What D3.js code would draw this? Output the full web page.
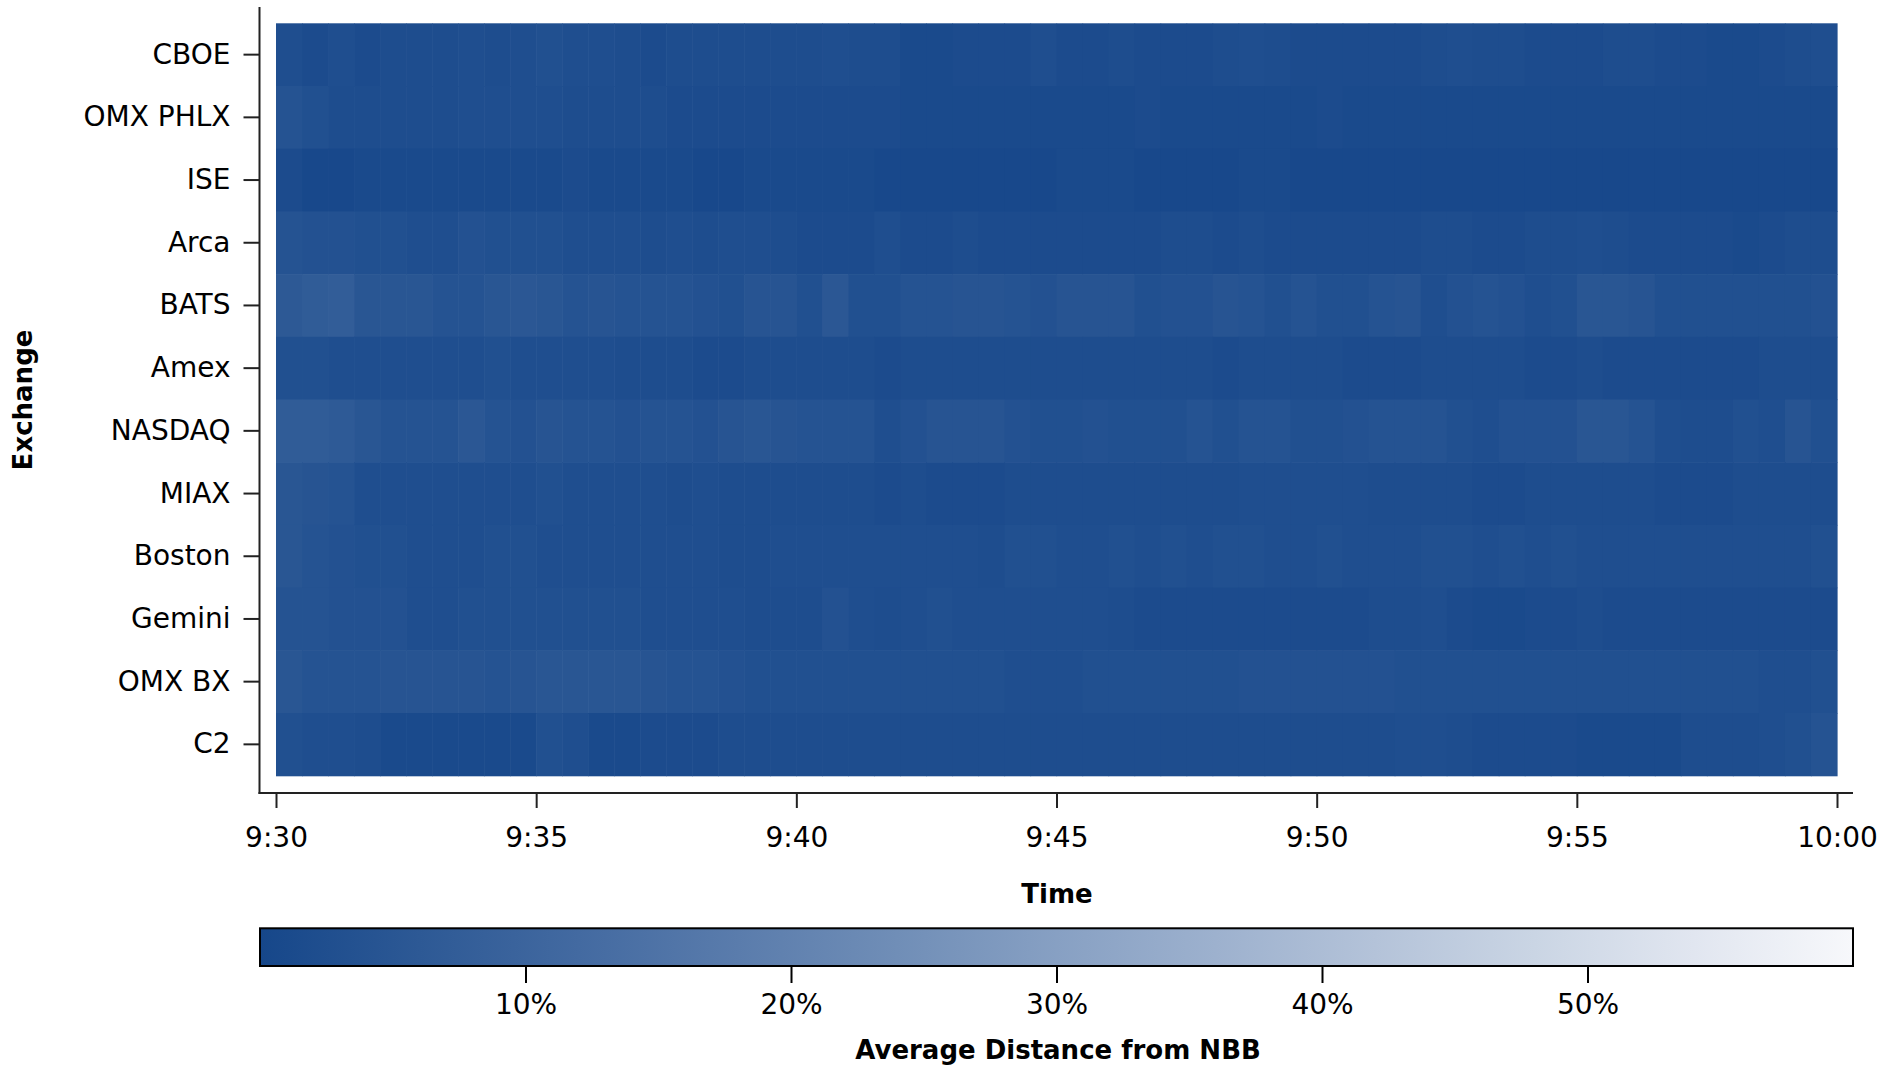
<!DOCTYPE html>
<html>
<head>
<meta charset="utf-8">
<script src="https://cdn.jsdelivr.net/npm/d3@7"></script>
<style>
  body { margin: 0; background: #fff; }
  svg { display: block; }
  text { font-family: "DejaVu Sans", sans-serif; fill: #000; }
</style>
</head>
<body>
<svg id="chart" width="1898" height="1067"></svg>
<script>
// ---- Data: average distance from NBB (%), 30-second bins from 9:30 to 10:00 ----
const exchangeNames = ["CBOE","OMX PHLX","ISE","Arca","BATS","Amex","NASDAQ","MIAX","Boston","Gemini","OMX BX","C2"];
const binSeconds = 30;
const xTickLabels = ["9:30","9:35","9:40","9:45","9:50","9:55","10:00"];
const colorTickValues = [0.10, 0.20, 0.30, 0.40, 0.50];

const CBOE = [2.5,1.5,2.5,1.5,2,2,2,2.5,2,2.5,3,2.5,2.5,2,1.5,2,2,2,2,2,2,2.5,2,2,1,1,1.5,1.5,1.5,2.5,
              1.5,1.5,2,1.5,1.5,1.5,2,2.5,2,1.5,1.5,1.5,1.5,1.5,2,2.5,2,2,1.5,1.5,1.5,2,2,1.5,1.5,1,1,1.5,2,2.5];
const OMX_PHLX = [4,3,2,2,2,2,2,2.5,2.5,2.5,2.5,2,2,2,2,1.5,1.5,1.5,1.5,1.5,1.5,1.5,1.5,1.5,1,1,1,1,1,1,
                  1,1,1,1.5,1,1,1,1,1,1,1.5,1,1,1,1,1,1,1,1,1,1,1,1,1,1,1,1,1,1,1];
const ISE = [1.5,0.5,0.5,1,1,1,1,1,1,1,1,1.5,1,1,1,1,0.5,0.5,1,1,1,1,1,0.5,0.5,0.5,0.5,0.5,0.5,0.5,
             1,1,1,0.5,0.5,0.5,0.5,1,1,0.5,0.5,0.5,0.5,0.5,0.5,0.5,0.5,0.5,0.5,0.5,0.5,0.5,0.5,0.5,0.5,0.5,0.5,0.5,0.5,0.5];
const Arca = [4,3.5,3.5,3,3,2.5,2.5,3.5,3,3,3,2.5,2.5,2.5,2,2.5,2,2.5,2.5,2,1.5,1.5,1.5,2.5,1.5,1.5,2,1.5,1.5,1.5,
              1.5,1.5,1.5,1.5,2,2,1.5,2,1.5,1.5,1.5,1.5,1.5,1.5,2,2,1.5,1.5,2,2,2.5,2,1.5,1.5,1.5,1.5,1,1.5,2,2];
const BATS = [6,7,7.5,5,5,5,4,4,5,5.5,5,4,4.5,4,4,4,3.5,3,4.5,4.5,3,5.5,3,3,4,4,4.5,4.5,4,3.5,
              4.5,4.5,4.5,3,3.5,3.5,4.5,4,3,4,3,3,4,4.5,2.5,3.5,4,3.5,2.5,3,5,5,4.5,3,3,3,3,3,3,3.5];
const Amex = [3,3,2.5,2.5,2.5,2.5,2.5,2.5,3,2.5,2.5,2.5,2.5,2,2,2,1.5,1.5,2,2,2,2,2,1.5,2,2,2,2,2,2,
              2,2,2,2,2,2,1.5,2,2,2,2,1.5,1.5,1.5,2,2,2,2,1.5,1.5,2,1.5,1.5,1.5,1.5,1.5,1.5,2,2,2];
const NASDAQ = [7,7,6.5,5,4,4,4,5.5,4,3.5,4.5,4,4,3.5,4,4,3.5,4.5,5,4.5,4,4,4,2.5,3.5,4.5,4.5,4.5,3.5,3,
                3,3.5,3,3,3,4,3,4,4,3,3,3.5,4,4,4,3,2.5,3.5,3.5,3.5,5,5,4,2.5,2,2,3,2.5,4.5,3];
const MIAX = [5,4.5,4,2.5,2.5,2.5,2.5,2.5,2.5,2.5,3,2.5,2.5,2.5,2.5,2,2.5,2,2,2,2,2,2,1.5,2,1.5,1.5,1.5,2,2,
              2,2,2,2,2,2,2,2.5,2.5,2.5,2.5,2.5,2,2,2,2,1.5,1.5,2,2,2,2,2,1.5,1.5,1.5,2,2,2,2];
const Boston = [5,4,3.5,3,3,2.5,2.5,2.5,3,3,2.5,2.5,2.5,2.5,2.5,2.5,2.5,2,2,2.5,2.5,2.5,2.5,2.5,2.5,2.5,2.5,2,3,3,
                2.5,2.5,3,2.5,3,2.5,3,3,2.5,2.5,3,2.5,2.5,2.5,3,3,2.5,3,2.5,3,2.5,2.5,2.5,2.5,2.5,2.5,2.5,2.5,2.5,3];
const Gemini = [4,4,3.5,3.5,3.5,2.5,2.5,3,3,3,3,3,3,3,2.5,2.5,2.5,2.5,2,2,2,3.5,2.5,2,2.5,3,2.5,2.5,2.5,2.5,
                2.5,2.5,2,1.5,1.5,1.5,1.5,1.5,1.5,1.5,1.5,1.5,2,2,2.5,1.5,1,1,1.5,1.5,2,1.5,1.5,1.5,1.5,1.5,1.5,1.5,1.5,1.5];
const OMX_BX = [5,4,4,4,4.5,4.5,4.5,4.5,4,4.5,5,5,5,5,4.5,4,4,3.5,3,3,3,3,3,3,3,3,3,3,2.5,2.5,
                2.5,3,3,3,3,3,3,3.5,3.5,3.5,3.5,3.5,3.5,3,3,3,3,3,3,3,3,3,3,3,3,3,3,2.5,2.5,3];
const C2 = [3,2.5,2.5,2,1,1,1,1,1,1,3,2.5,1,1,1.5,1.5,1.5,2,2,2,2,2,2,2,2,2,2,2,2,2,
            2,2,2,2,2,2,2,2,2,2,2,2,2,2.5,2.5,2,1.5,1.5,1.5,1.5,1,1,1,1,2,2,2,2.5,3,4];

const seriesByExchange = [CBOE, OMX_PHLX, ISE, Arca, BATS, Amex, NASDAQ, MIAX, Boston, Gemini, OMX_BX, C2];

// ---- Build table ----
const parseHM = d3.timeParse("%H:%M");
const t0 = parseHM(xTickLabels[0]);
const t1 = parseHM(xTickLabels[xTickLabels.length - 1]);
const cells = [];
exchangeNames.forEach((name, i) => {
  seriesByExchange[i].forEach((v, j) => {
    const start = d3.timeSecond.offset(t0, j * binSeconds);
    cells.push({ name, start, end: d3.timeSecond.offset(start, binSeconds), value: v / 100 });
  });
});

// ---- Layout ----
const svg = d3.select("#chart");
const plot = { left: 276, right: 1837, top: 23.3, bottom: 775.7 };
const axisX = 259.5, axisY = 793;

const x = d3.scaleTime().domain([t0, t1]).range([plot.left, plot.right]);
const y = d3.scaleBand().domain(exchangeNames).range([plot.top, plot.bottom]).padding(0);
const color = d3.scaleLinear().domain([0, 0.6]).range(["#16478a", "#f7f8fb"]).interpolate(d3.interpolateRgb);

// Heatmap cells
svg.append("g").selectAll("rect").data(cells).join("rect")
  .attr("x", d => x(d.start))
  .attr("y", d => y(d.name))
  .attr("width", d => x(d.end) - x(d.start) + 0.6)
  .attr("height", y.bandwidth() + 0.6)
  .attr("fill", d => color(d.value));

// Y axis
const yAxis = svg.append("g").attr("transform", `translate(${axisX},0)`)
  .call(d3.axisLeft(y).tickSize(16).tickPadding(13));
yAxis.select(".domain").remove();
yAxis.selectAll(".tick line").attr("stroke", "#222").attr("stroke-width", 2);
yAxis.selectAll(".tick text").style("font-size", "28px").attr("fill", "#000");
svg.append("line").attr("x1", axisX).attr("x2", axisX).attr("y1", 7).attr("y2", axisY + 1)
  .attr("stroke", "#222").attr("stroke-width", 2);

// X axis
const xTicks = xTickLabels.map(parseHM);
const xAxis = svg.append("g").attr("transform", `translate(0,${axisY})`)
  .call(d3.axisBottom(x).tickValues(xTicks).tickFormat(d3.timeFormat("%-H:%M")).tickSize(15).tickPadding(19));
xAxis.select(".domain").remove();
xAxis.selectAll(".tick line").attr("stroke", "#222").attr("stroke-width", 2);
xAxis.selectAll(".tick text").style("font-size", "28px").attr("fill", "#000");
svg.append("line").attr("x1", axisX - 1).attr("x2", 1853).attr("y1", axisY).attr("y2", axisY)
  .attr("stroke", "#222").attr("stroke-width", 2);

// Axis titles
svg.append("text").attr("x", 1057).attr("y", 903).attr("text-anchor", "middle")
  .style("font-size", "26px").style("font-weight", "bold").text("Time");
svg.append("text").attr("transform", "translate(32,400) rotate(-90)").attr("text-anchor", "middle")
  .style("font-size", "26px").style("font-weight", "bold").text("Exchange");

// Color legend
const cx = d3.scaleLinear().domain(color.domain()).range([260, 1853]);
const defs = svg.append("defs");
const grad = defs.append("linearGradient").attr("id", "cbar").attr("x1", "0%").attr("x2", "100%");
d3.range(0, 1.0001, 0.1).forEach(f => {
  const v = color.domain()[0] + f * (color.domain()[1] - color.domain()[0]);
  grad.append("stop").attr("offset", (f * 100) + "%").attr("stop-color", color(v));
});
const barTop = 928.3, barH = 37.7;
svg.append("rect").attr("x", cx(0)).attr("y", barTop).attr("width", cx(0.6) - cx(0)).attr("height", barH)
  .attr("fill", "url(#cbar)").attr("stroke", "#000").attr("stroke-width", 2);
const cAxis = svg.append("g").attr("transform", `translate(0,${barTop + barH})`)
  .call(d3.axisBottom(cx).tickValues(colorTickValues).tickFormat(d3.format(".0%")).tickSize(17).tickPadding(11));
cAxis.select(".domain").remove();
cAxis.selectAll(".tick line").attr("stroke", "#000").attr("stroke-width", 2);
cAxis.selectAll(".tick text").style("font-size", "28px").attr("fill", "#000");
svg.append("text").attr("x", 1058).attr("y", 1059).attr("text-anchor", "middle")
  .style("font-size", "26px").style("font-weight", "bold").text("Average Distance from NBB");
</script>
</body>
</html>
